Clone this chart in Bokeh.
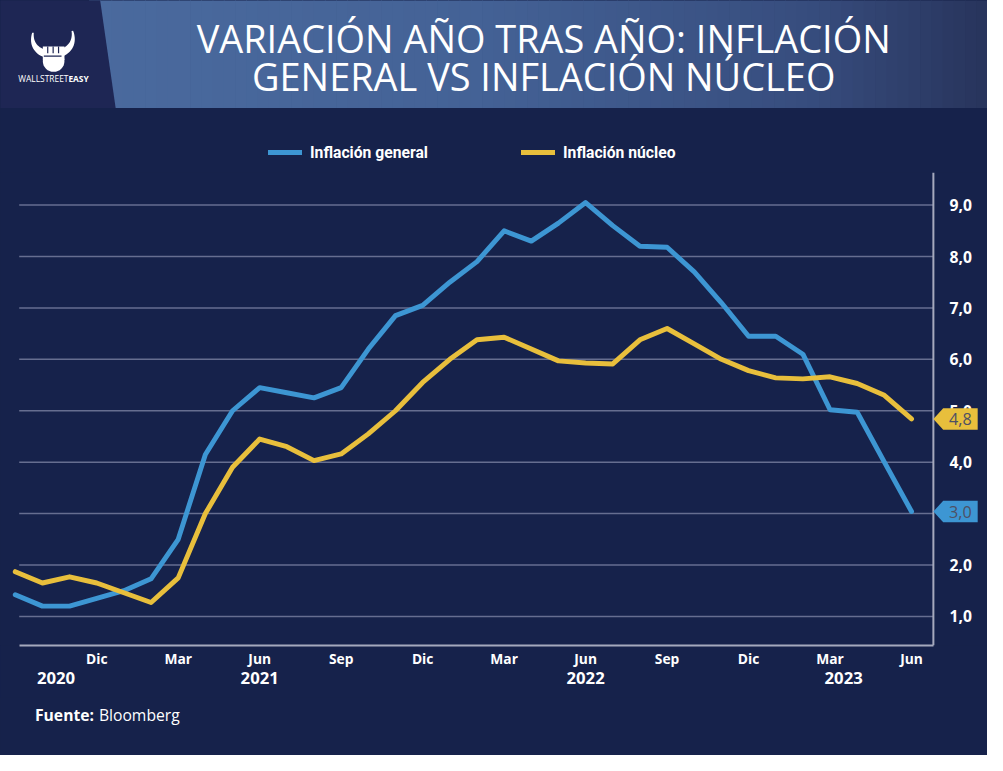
import math
from bokeh.plotting import figure
from bokeh.models import (Range1d, FixedTicker, LinearAxis, Legend, LegendItem, Span)
from bokeh.layouts import column
from bokeh.embed import file_html
from bokeh.resources import INLINE
from bokeh.core.properties import value

# ---------------- data (monthly, Sep 2020 .. Jun 2023) ----------------
general = [1.42, 1.2, 1.2, 1.35,
           1.5, 1.73, 2.5, 4.15, 5.0, 5.45, 5.35, 5.25, 5.45, 6.2, 6.85, 7.05,
           7.5, 7.9, 8.5, 8.3, 8.65, 9.05, 8.6, 8.2, 8.18, 7.7, 7.1, 6.45,
           6.45, 6.1, 5.02, 4.97, 4.0, 3.04]
core = [1.87, 1.65, 1.77, 1.65,
        1.46, 1.27, 1.75, 3.0, 3.9, 4.45, 4.3, 4.03, 4.16, 4.55, 5.0, 5.55,
        6.0, 6.38, 6.43, 6.2, 5.97, 5.93, 5.91, 6.38, 6.6, 6.3, 6.0, 5.78,
        5.64, 5.62, 5.66, 5.53, 5.3, 4.84]
series_names = ["Inflación general", "Inflación núcleo"]
month_tick_idx = [3, 6, 9, 12, 15, 18, 21, 24, 27, 30, 33]
month_tick_labels = ["Dic", "Mar", "Jun", "Sep", "Dic", "Mar", "Jun", "Sep", "Dic", "Mar", "Jun"]
year_tick_pos = [1.5, 9, 21, 30.5]
year_tick_labels = ["2020", "2021", "2022", "2023"]
y_ticks = [1, 2, 3, 4, 5, 6, 7, 8, 9]
y_tick_labels = ["1,0", "2,0", "3,0", "4,0", "5,0", "6,0", "7,0", "8,0", "9,0"]
title_lines = ["VARIACIÓN AÑO TRAS AÑO: INFLACIÓN", "GENERAL VS INFLACIÓN NÚCLEO"]
brand = ("WALLSTREET", "EASY")
source_bold, source_text = "Fuente:", "Bloomberg"

BG = "#16224b"
BLUE = "#3d96d3"
YELLOW = "#e8bf3c"
GRID = "#666e90"
AXIS = "#a5a9bd"
PANEL = "#1e2654"
RW, RH = 1003, 771          # design size
W, H = 987, 755             # drawn size (fits inside the 8px page margin)
S = W / RW

def fs(px):
    return "%.1fpx" % (px * S)

LW = 5 * S

def clean(f):
    f.axis.visible = False
    f.grid.visible = False
    f.outline_line_color = None
    f.background_fill_color = BG
    f.border_fill_color = BG

# ---------------- header (design rows 0..176) ----------------
HH = 172
hf = figure(width=W, height=HH, x_range=Range1d(0, RW), y_range=Range1d(176, 0),
            output_backend="svg", toolbar_location=None, min_border=0)
clean(hf)

def lerp(c1, c2, t):
    return tuple(int(round(a + (b - a) * t)) for a, b in zip(c1, c2))

stops = [(90, (74, 106, 158)), (480, (68, 98, 150)), (820, (55, 77, 126)), (RW, (40, 52, 92))]
n = 80
lefts, rights, cols = [], [], []
for i in range(n):
    x0 = 90 + (RW - 90) * i / n
    x1 = 90 + (RW - 90) * (i + 1) / n
    xm = (x0 + x1) / 2
    c = stops[-1][1]
    for (a, ca), (b, cb) in zip(stops[:-1], stops[1:]):
        if a <= xm <= b:
            c = lerp(ca, cb, (xm - a) / (b - a))
            break
    lefts.append(x0)
    rights.append(x1 + 0.7)
    cols.append("#%02x%02x%02x" % c)
hf.quad(left=lefts, right=rights, top=-2, bottom=110, fill_color=cols, line_color=None)
hf.patch(x=[-2, 101, 117, -2], y=[-2, -2, 110, 110], fill_color=PANEL, line_color=None)

# logo: horns + fist
def bez(t, p0, c0, c1, p1):
    u = 1 - t
    return (u**3 * p0[0] + 3 * u * u * t * c0[0] + 3 * u * t * t * c1[0] + t**3 * p1[0],
            u**3 * p0[1] + 3 * u * u * t * c0[1] + 3 * u * t * t * c1[1] + t**3 * p1[1])

P0, C0, C1, P1 = (33, 33), (27, 64), (81, 62), (73, 31)
pts = [bez(k / 40, P0, C0, C1, P1) for k in range(41)]
side_a, side_b = [], []
for k, (qx, qy) in enumerate(pts):
    qa = pts[max(k - 1, 0)]
    qb = pts[min(k + 1, 40)]
    tx, ty = qb[0] - qa[0], qb[1] - qa[1]
    ln = math.hypot(tx, ty) or 1
    nx, ny = -ty / ln, tx / ln
    w = 0.8 + 3.4 * math.sin(math.pi * k / 40)
    side_a.append((qx + nx * w, qy + ny * w))
    side_b.append((qx - nx * w, qy - ny * w))
horn = side_a + side_b[::-1]
hf.patch(x=[a for a, b in horn], y=[b for a, b in horn], fill_color="white", line_color=None)
hf.ellipse(x=[54], y=[62], width=[22], height=[22], fill_color="white", line_color=None)
hf.quad(left=[43], right=[65], top=[47], bottom=[61], fill_color="white", line_color=None)
hf.segment(x0=[48, 53.5, 59], y0=[47, 47, 47], x1=[48, 53.5, 59], y1=[54, 54, 54],
           line_color=PANEL, line_width=1.2)
hf.segment(x0=[44], y0=[57], x1=[62], y1=[57], line_color=PANEL, line_width=1.2)
hf.text(x=[69], y=[80], text=[brand[0]], text_align="right", text_baseline="middle",
        text_color="white", text_font=value("Open Sans"), text_font_size=fs(8.5))
hf.text(x=[69], y=[80], text=[brand[1]], text_align="left", text_baseline="middle",
        text_color="white", text_font=value("Open Sans"), text_font_style="bold",
        text_font_size=fs(8.5))

hf.text(x=[552, 552], y=[38, 77], text=title_lines, text_align="center",
        text_baseline="middle", text_color="white", text_font=value("Open Sans"),
        text_font_size=fs(38.5))

# legend (sample strokes styled like the chart's series, kept off-range)
d1 = hf.line(x=[-60, -50], y=[300, 300], line_color=BLUE, line_width=LW, line_cap="round")
d2 = hf.line(x=[-60, -50], y=[300, 300], line_color=YELLOW, line_width=LW, line_cap="round")
legend = Legend(items=[LegendItem(label=series_names[0], renderers=[d1]),
                       LegendItem(label=series_names[1], renderers=[d2])],
                orientation="horizontal", location=(round(272 * S), 10))
legend.background_fill_alpha = 0
legend.border_line_color = None
legend.label_text_color = "white"
legend.label_text_font = "Roboto"
legend.label_text_font_style = "bold"
legend.label_text_font_size = fs(16)
legend.glyph_width = round(35 * S)
legend.glyph_height = 20
legend.spacing = round(95 * S)
legend.label_standoff = 8
legend.padding = 0
legend.margin = 0
hf.add_layout(legend, "center")

# ---------------- chart (design rows 176..712) ----------------
PX = 27.6                          # design px per month, month 0 at design x 15
x = list(range(len(general)))
x_start = -15 / PX
x_end = (RW - 15) / PX
x_axis = (948 - 15) / PX           # where the value axis line sits
x_grid0 = (19 - 15) / PX
y_start, y_end = 0.434, 9.634
PY = 52.5                          # design px per unit

CH, CB = 525, 52
p = figure(width=W, height=CH, x_range=Range1d(x_start, x_end),
           y_range=Range1d(y_start, y_end), y_axis_location="right",
           output_backend="svg", toolbar_location=None,
           min_border_left=0, min_border_right=0, min_border_top=0, min_border_bottom=CB)
p.background_fill_color = BG
p.border_fill_color = BG
p.outline_line_color = None
p.grid.visible = False

p.segment(x0=[x_grid0] * len(y_ticks), x1=[x_axis] * len(y_ticks), y0=y_ticks, y1=y_ticks,
          line_color=GRID, line_width=1.5)
p.add_layout(Span(location=x_axis, dimension="height", line_color=AXIS, line_width=2))

ya = p.yaxis[0]
ya.ticker = FixedTicker(ticks=y_ticks)
ya.major_label_overrides = {t: l for t, l in zip(y_ticks, y_tick_labels)}
ya.axis_line_color = None
ya.major_tick_line_color = None
ya.minor_tick_line_color = None
ya.major_label_text_color = "white"
ya.major_label_text_font = "Open Sans"
ya.major_label_text_font_style = "bold"
ya.major_label_text_font_size = fs(16)
ya.major_label_standoff = -round((RW - 958) * S)

xa = p.xaxis[0]
xa.ticker = FixedTicker(ticks=month_tick_idx)
xa.major_label_overrides = {t: l for t, l in zip(month_tick_idx, month_tick_labels)}
xa.bounds = (x_grid0, x_axis)
xa.axis_line_color = AXIS
xa.axis_line_width = 2
xa.major_tick_line_color = None
xa.minor_tick_line_color = None
xa.major_label_text_color = "white"
xa.major_label_text_font = "Open Sans"
xa.major_label_text_font_style = "bold"
xa.major_label_text_font_size = fs(14)
xa.major_label_standoff = -3

yr = LinearAxis(ticker=FixedTicker(ticks=year_tick_pos),
                major_label_overrides={t: l for t, l in zip(year_tick_pos, year_tick_labels)})
yr.axis_line_color = None
yr.major_tick_line_color = None
yr.minor_tick_line_color = None
yr.major_label_text_color = "white"
yr.major_label_text_font = "Open Sans"
yr.major_label_text_font_style = "bold"
yr.major_label_text_font_size = fs(17)
yr.major_label_standoff = -5
p.add_layout(yr, "below")

p.line(x, general, line_color=BLUE, line_width=LW, line_cap="round", line_join="round")
p.line(x, core, line_color=YELLOW, line_width=LW, line_cap="round", line_join="round")

# end-value callouts at the value axis (drawn above the axis labels)
dx = 1.0 / PX
dy = 1.0 / PY
for v, col in [(general[-1], BLUE), (core[-1], YELLOW)]:
    p.patch(x=[x_axis, x_axis + 10 * dx, x_axis + 45 * dx, x_axis + 45 * dx, x_axis + 10 * dx],
            y=[v, v + 11 * dy, v + 11 * dy, v - 11 * dy, v - 11 * dy],
            fill_color=col, line_color=None, level="overlay")
    p.text(x=[x_axis + 27.5 * dx], y=[v], text=[("%.1f" % v).replace(".", ",")],
           text_align="center", text_baseline="middle", text_color="#4e5064",
           text_font=value("Open Sans"), text_font_size=fs(16.5), level="overlay")

# ---------------- footer (design rows 712..771) ----------------
FH = H - HH - CH
ff = figure(width=W, height=FH, x_range=Range1d(0, RW), y_range=Range1d(RH, 712),
            output_backend="svg", toolbar_location=None, min_border=0)
clean(ff)
ff.text(x=[35], y=[730], text=[source_bold], text_baseline="middle", text_color="white",
        text_font=value("Open Sans"), text_font_style="bold", text_font_size=fs(16))
ff.text(x=[100], y=[730], text=[source_text], text_baseline="middle", text_color="white",
        text_font=value("Open Sans"), text_font_size=fs(16))

layout = column(hf, p, ff, styles={"background-color": BG})
open("out.html", "w").write(file_html(layout, INLINE))
